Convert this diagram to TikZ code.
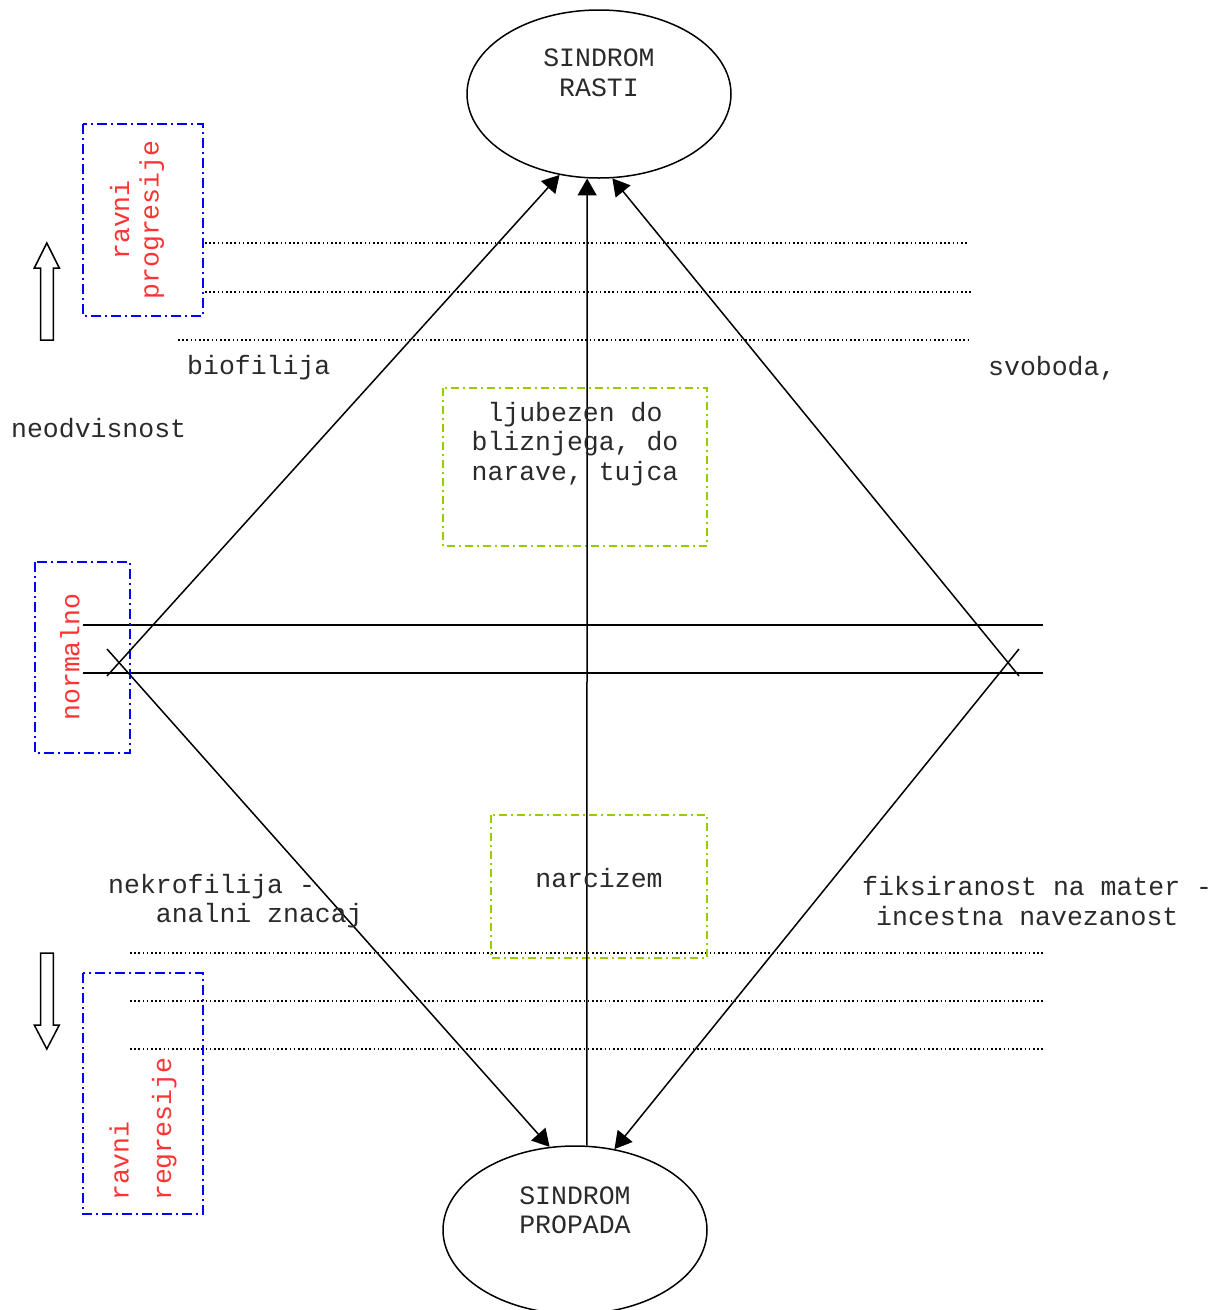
\documentclass[tikz,border=0pt]{standalone}
\usepackage{fontspec}
\setmainfont{Liberation Mono}
\usetikzlibrary{shapes.geometric,arrows.meta}
\definecolor{lblue}{HTML}{0000FF}
\definecolor{lred}{HTML}{FF3333}
\definecolor{lgreen}{HTML}{99CC00}
\definecolor{txt}{HTML}{2A2A2A}
\begin{document}
\begin{tikzpicture}[x=1pt,y=-1pt,
  font=\fontsize{26.5pt}{29.5pt}\selectfont,
  every node/.style={inner sep=0pt,text=txt},
  oval/.style={draw,ellipse,line width=1.5pt,minimum width=264pt,minimum height=168pt},
  arr/.style={line width=1.5pt,-{Triangle[length=17pt,width=19pt]}},
  solidline/.style={line width=1.5pt},
  dotline/.style={line width=1.1pt,dash pattern=on 1.6pt off 2.6pt},
  bluebox/.style={draw=lblue,line width=1.6pt,dash pattern=on 10pt off 4pt on 2pt off 4pt},
  greenbox/.style={draw=lgreen,line width=1.5pt,dash pattern=on 8pt off 4pt on 2pt off 4pt},
  redtext/.style={text=lred,rotate=90},
  blockarrow/.style={draw,line width=1.5pt,fill=white}]
\path[use as bounding box] (0,0) rectangle (1221,1310);

% ellipses
\node[oval] (rasti) at (599,94) {};
\node[align=center] (rastitxt) at (599,73) {SINDROM\\RASTI};
\node[oval] (propada) at (575,1230) {};
\node[align=center] (propadatxt) at (575,1210) {SINDROM\\PROPADA};

% level lines
\draw[dotline] (205,243) -- (968,243);
\draw[dotline] (205,292) -- (971,292);
\draw[dotline] (178,340) -- (968,340);
\draw[solidline] (83,625) -- (1043,625);
\draw[solidline] (83,673) -- (1043,673);
\draw[dotline] (130,953) -- (1043,953);
\draw[dotline] (130,1001) -- (1043,1001);
\draw[dotline] (130,1049) -- (1043,1049);

% boxes
\draw[bluebox] (83,124) rectangle (203,316);
\draw[bluebox] (35,562) rectangle (130,753);
\draw[bluebox] (83,973) rectangle (203,1214);
\draw[greenbox] (443,388) rectangle (707,546);
\draw[greenbox] (491,815) rectangle (707,958);

% block arrows
\draw[blockarrow] (40.7,340) -- (40.7,268) -- (34.3,268) -- (46.8,243) -- (59.3,268) -- (53.3,268) -- (53.3,340) -- cycle;
\draw[blockarrow] (40.7,953) -- (53.3,953) -- (53.3,1025) -- (59.3,1025) -- (46.8,1049) -- (34.3,1025) -- (40.7,1025) -- cycle;

% connectors
\coordinate (lu) at (107,676);
\coordinate (ru) at (1019,676);
\coordinate (ld) at (107,649);
\coordinate (rd) at (1019,649);
\draw[arr] (lu) -- (rasti.244);
\draw[arr] (propada.82) -- (rasti.262);
\draw[arr] (ru) -- (rasti.279);
\draw[arr] (ld) -- (propada.107);
\draw[arr] (rd) -- (propada.64);

% red labels
\node[redtext,align=center] (progr) at (137,220) {ravni\\progresije};
\node[redtext] (normal) at (70,657) {normalno};
\node[redtext,align=left,anchor=west] (regr) at (143,1201) {ravni\\[13pt]regresije};

% texts
\node[anchor=west] (bio) at (187,368) {biofilija};
\node[anchor=west] (svob) at (988,368) {svoboda,};
\node[anchor=west] (neod) at (11,428) {neodvisnost};
\node[align=center] (ljub) at (575,444) {ljubezen do\\bliznjega, do\\narave, tujca};
\node (narc) at (599,878) {narcizem};
\node[anchor=west,align=left] (nekro) at (108,901) {nekrofilija -\\\hphantom{xxx}analni znacaj};
\node[anchor=west,align=left] (fiks) at (862,901) {fiksiranost na mater -\\\hspace*{14pt}incestna navezanost};
\end{tikzpicture}
\end{document}
